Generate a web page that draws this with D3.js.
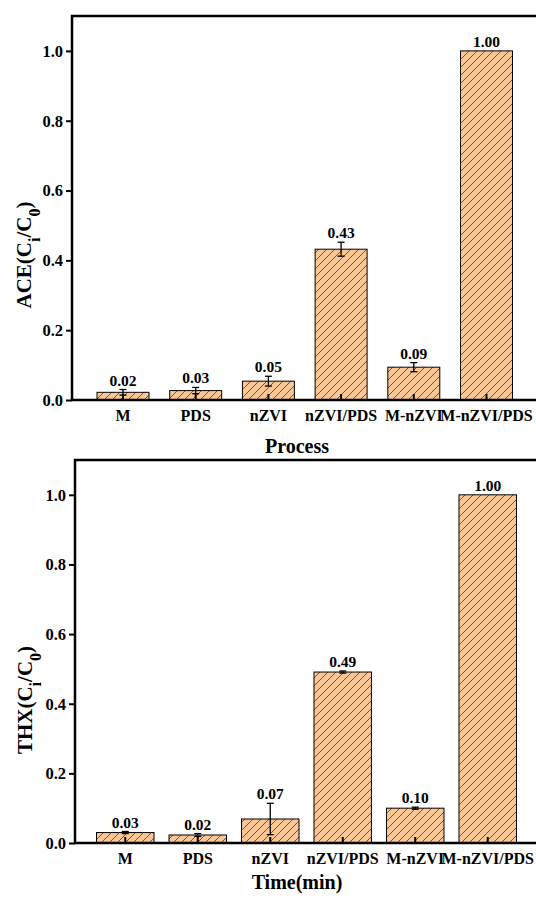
<!DOCTYPE html>
<html>
<head>
<meta charset="utf-8">
<script src="https://cdn.jsdelivr.net/npm/d3@7"></script>
<style>
  body { margin: 0; background: #fff; }
  svg text { font-family: "Liberation Serif", "Times New Roman", serif; font-weight: bold; fill: #000; }
</style>
</head>
<body>
<div id="chart"></div>
<script>
// data
var categories = ["M", "PDS", "nZVI", "nZVI/PDS", "M-nZVI", "M-nZVI/PDS"];
var yTicks = [0, 0.2, 0.4, 0.6, 0.8, 1.0];

var aceValues = [0.022, 0.027, 0.054, 0.432, 0.094, 1.0];
var aceErrors = [0.008, 0.009, 0.014, 0.020, 0.013, 0];
var aceLabels = ["0.02", "0.03", "0.05", "0.43", "0.09", "1.00"];

var thxValues = [0.030, 0.023, 0.069, 0.491, 0.100, 1.0];
var thxErrors = [0.003, 0.004, 0.045, 0.003, 0.003, 0];
var thxLabels = ["0.03", "0.02", "0.07", "0.49", "0.10", "1.00"];

let width = 536;
let height = 900;

var svg = d3.select("#chart")
    .append("svg")
    .attr("width", width)
    .attr("height", height);

//diagonal hatch for the bars
var pat = svg.append("defs").append("pattern")
    .attr("id", "hatch")
    .attr("patternUnits", "userSpaceOnUse")
    .attr("width", 8)
    .attr("height", 8);
pat.append("rect").attr("width", 8).attr("height", 8).attr("fill", "#F9C696");
pat.append("path")
    .attr("d", "M-2,2 L2,-2 M0,8 L8,0 M6,10 L10,6")
    .attr("stroke", "#4a3a2e")
    .attr("stroke-width", 0.8);

var drawPanel = function(opt) {
    let g = svg.append("g");

    let x = d3.scaleBand()
        .domain(categories)
        .range([opt.left, opt.right])
        .paddingInner(opt.padIn)
        .paddingOuter(opt.padOut);

    let y = d3.scaleLinear()
        .domain([0, 1.1])
        .range([opt.bottom, opt.top]);

    let data = categories.map((c, i) => ({cat: c, v: opt.values[i], e: opt.errors[i], lab: opt.labels[i]}));

    //bars
    g.selectAll(".bar")
        .data(data)
        .enter().append("rect")
        .attr("class", "bar")
        .attr("x", d => x(d.cat))
        .attr("width", x.bandwidth())
        .attr("y", d => y(d.v))
        .attr("height", d => opt.bottom - y(d.v))
        .attr("fill", "url(#hatch)")
        .attr("stroke", "#000")
        .attr("stroke-width", 1);

    //error bars
    let cx = d => x(d.cat) + x.bandwidth() / 2;
    let errs = g.selectAll(".err")
        .data(data.filter(d => d.e > 0))
        .enter().append("g")
        .attr("class", "err");
    errs.append("line")
        .attr("x1", cx).attr("x2", cx)
        .attr("y1", d => y(d.v - d.e)).attr("y2", d => y(d.v + d.e))
        .attr("stroke", "#000").attr("stroke-width", 1.3);
    errs.append("line")
        .attr("x1", d => cx(d) - 3.5).attr("x2", d => cx(d) + 3.5)
        .attr("y1", d => y(d.v + d.e)).attr("y2", d => y(d.v + d.e))
        .attr("stroke", "#000").attr("stroke-width", 1.3);
    errs.append("line")
        .attr("x1", d => cx(d) - 3.5).attr("x2", d => cx(d) + 3.5)
        .attr("y1", d => y(d.v - d.e)).attr("y2", d => y(d.v - d.e))
        .attr("stroke", "#000").attr("stroke-width", 1.3);

    //value labels
    g.selectAll(".vlab")
        .data(data)
        .enter().append("text")
        .attr("class", "vlab")
        .attr("x", cx)
        .attr("y", d => y(d.v + d.e) - 4)
        .attr("text-anchor", "middle")
        .style("font-size", "15.5px")
        .text(d => d.lab);

    //y axis, ticks pointing out
    let yAxis = g.append("g")
        .attr("transform", "translate(" + opt.left + ",0)")
        .call(d3.axisLeft(y).tickValues(yTicks).tickFormat(d3.format(".1f")).tickSize(6).tickPadding(3));
    yAxis.select(".domain").remove();
    yAxis.selectAll(".tick line").attr("stroke-width", 2);
    yAxis.selectAll(".tick text").style("font-size", "16.5px");

    //x axis, ticks pointing in
    let xAxis = g.append("g")
        .attr("transform", "translate(0," + opt.bottom + ")")
        .call(d3.axisBottom(x).tickSize(-6).tickPadding(10));
    xAxis.select(".domain").remove();
    xAxis.selectAll(".tick line").attr("stroke-width", 2);
    xAxis.selectAll(".tick text").style("font-size", "16px");

    //frame: left, top, bottom
    g.append("path")
        .attr("d", "M" + width + "," + opt.top + " L" + opt.left + "," + opt.top + " L" + opt.left + "," + opt.bottom + " L" + width + "," + opt.bottom)
        .attr("fill", "none")
        .attr("stroke", "#000")
        .attr("stroke-width", 2.5);

    //y title with subscripts
    let yt = g.append("text")
        .attr("transform", "translate(" + opt.titleX + "," + opt.titleY + ") rotate(-90)")
        .attr("text-anchor", "middle")
        .style("font-size", "21px");
    yt.append("tspan").text(opt.name + "(C");
    yt.append("tspan").attr("baseline-shift", "sub").style("font-size", "16px").text("i");
    yt.append("tspan").text("/C");
    yt.append("tspan").attr("baseline-shift", "sub").style("font-size", "16px").text("0");
    yt.append("tspan").text(")");

    //x title
    g.append("text")
        .attr("x", opt.xTitleX)
        .attr("y", opt.xTitleY)
        .attr("text-anchor", "middle")
        .style("font-size", "20px")
        .text(opt.xTitle);
};

drawPanel({
    left: 72, right: 537.5, top: 16, bottom: 400,
    padIn: 0.285, padOut: 0.344,
    values: aceValues, errors: aceErrors, labels: aceLabels,
    name: "ACE", titleX: 31, titleY: 255,
    xTitle: "Process", xTitleX: 297, xTitleY: 453
});

drawPanel({
    left: 75, right: 538, top: 460, bottom: 843,
    padIn: 0.207, padOut: 0.297,
    values: thxValues, errors: thxErrors, labels: thxLabels,
    name: "THX", titleX: 32, titleY: 700,
    xTitle: "Time(min)", xTitleX: 297, xTitleY: 889
});
</script>
</body>
</html>
